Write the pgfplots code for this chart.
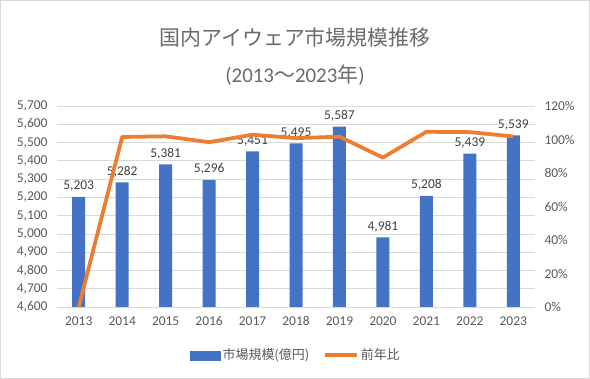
\documentclass[border=0pt]{standalone}
\usepackage{pgfplots}
\pgfplotsset{compat=1.18}
\usepackage{fontspec}
\setmainfont{Carlito}
\newfontfamily\cjk{Noto Sans CJK JP}
\definecolor{barblue}{HTML}{4472C4}
\definecolor{lineorange}{HTML}{ED7D31}
\definecolor{txtgray}{HTML}{595959}
\definecolor{titlegray}{HTML}{6A6A6A}
\definecolor{gridgray}{HTML}{D9D9D9}
\definecolor{lblgray}{HTML}{404040}
\begin{document}
\begin{tikzpicture}
\draw[gridgray, line width=1bp] (0.5bp,0.5bp) rectangle (589.5bp,378.5bp);
\node[titlegray, font=\cjk\fontsize{21}{24}\selectfont] at (295bp,341bp) {国内アイウェア市場規模推移};
\node[titlegray, font=\fontsize{21}{24}\selectfont] at (295bp,304bp) {(2013{\cjk ～}2023{\cjk 年})};
\begin{axis}[
  at={(57bp,72bp)}, anchor=south west, scale only axis,
  width=478bp, height=201bp,
  xmin=-0.5, xmax=10.5, ymin=4600, ymax=5700,
  ytick={4600,4700,...,5700},
  xtick={0,...,10},
  xticklabels={2013,2014,2015,2016,2017,2018,2019,2020,2021,2022,2023},
  axis line style={draw=none},
  major tick length=0pt,
  ymajorgrids, grid style={gridgray, line width=0.8bp},
  /pgf/number format/assume math mode=true,
  /pgf/number format/1000 sep={,},
  tick label style={font=\fontsize{13.5}{16}\selectfont, text=txtgray},
  yticklabel style={xshift=-6bp},
  xticklabel style={yshift=-6bp},
  ybar, bar width=13bp,
  nodes near coords,
  every node near coord/.append style={font=\fontsize{13.5}{16}\selectfont, text=lblgray, yshift=2bp},
]
\addplot[fill=barblue, draw=none] coordinates {
(0,5203) (1,5282) (2,5381) (3,5296) (4,5451) (5,5495) (6,5587) (7,4981) (8,5208) (9,5439) (10,5539)};
\end{axis}
\begin{axis}[
  at={(57bp,72bp)}, anchor=south west, scale only axis,
  width=478bp, height=201bp,
  xmin=-0.5, xmax=10.5, ymin=0, ymax=120,
  axis x line=none,
  axis y line*=right,
  axis line style={draw=none},
  major tick length=0pt,
  ytick={0,20,...,120},
  yticklabel={\pgfmathprintnumber{\tick}\%},
  /pgf/number format/assume math mode=true,
  tick label style={font=\fontsize{13.5}{16}\selectfont, text=txtgray},
  yticklabel style={xshift=6bp},
  clip=false,
  legend style={at={(0.5,-0.24)}, anchor=center, legend columns=-1, draw=none,
    font=\cjk\fontsize{13}{16}\selectfont, text=txtgray,
    /tikz/every even column/.append style={column sep=12bp}},
]
\addlegendimage{legend image code/.code={\fill[barblue] (0bp,-4.5bp) rectangle (30bp,4.5bp);}}
\addlegendentry{市場規模(億円)}
\addplot[lineorange, line width=3.75bp, mark=none, line join=round,
  legend image code/.code={\draw[lineorange, line width=3.75bp] (0bp,0bp) -- (32bp,0bp);}] coordinates {
(0,0) (1,101.5) (2,101.9) (3,98.4) (4,102.9) (5,100.8) (6,101.7) (7,89.2) (8,104.6) (9,104.4) (10,101.8)};
\addlegendentry{前年比}
\end{axis}
\end{tikzpicture}
\end{document}
